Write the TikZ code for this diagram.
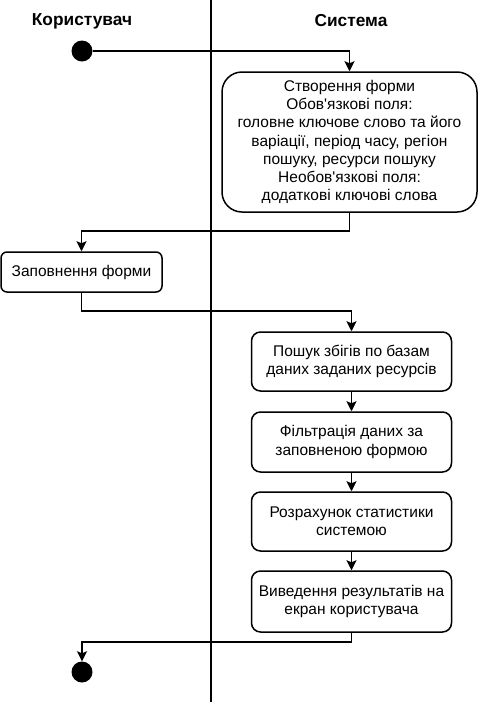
\documentclass[tikz,border=0pt]{standalone}
\usepackage{fontspec}
\setmainfont{Liberation Sans}[Ligatures=TeXOff]
\usetikzlibrary{arrows.meta}
\begin{document}
\begin{tikzpicture}[x=1pt,y=-1pt,
  every node/.style={font=\fontsize{15.5}{18.3}\selectfont, align=center, inner sep=0pt},
  act/.style={draw, line width=1.5pt, rectangle, anchor=center},
  dot/.style={circle, fill=black, minimum size=21pt, inner sep=0pt},
  lane/.style={font=\fontsize{17.3}{20}\selectfont\bfseries},
  conn/.style={line width=1.5pt, -{Stealth[length=10pt,width=10pt,inset=2pt]}}]
\useasboundingbox (0,0) rectangle (483,705);
\node[lane] (t1) at (82,21) {Користувач};
\node[lane] (t2) at (351,21) {Система};
\coordinate (lt) at (211,0);
\coordinate (lb) at (211,702);
\draw[line width=1.5pt] (lt) -- (lb);
\node[dot] (start) at (82,51) {};
\node[act, minimum width=255pt, minimum height=140pt, rounded corners=20pt] (b1) at (349.5,142)
 {Створення форми\\Обов'язкові поля:\\головне ключове слово та його\\варіації, період часу, регіон\\пошуку, ресурси пошуку\\Необов'язкові поля:\\додаткові ключові слова};
\node[act, minimum width=161pt, minimum height=40pt, rounded corners=6pt] (b2) at (81.5,272) {Заповнення форми};
\node[act, minimum width=200pt, minimum height=59pt, rounded corners=9pt] (b3) at (351.5,361.5) {Пошук збігів по базам\\даних заданих ресурсів};
\node[act, minimum width=200pt, minimum height=60pt, rounded corners=9pt] (b4) at (351.5,442) {Фільтрація даних за\\заповненою формою};
\node[act, minimum width=200pt, minimum height=59pt, rounded corners=9pt] (b5) at (351.5,521.5) {Розрахунок статистики\\системою};
\node[act, minimum width=200pt, minimum height=61pt, rounded corners=9pt] (b6) at (351.5,601.5) {Виведення результатів на\\екран користувача};
\node[dot] (end) at (82,672) {};
\draw[conn] (start.east) -| (b1.north);
\draw[conn] (b1.south) |- (216,231) -| (b2.north);
\draw[conn] (b2.south) |- (216,311) -| (b3.north);
\draw[conn] (b3) -- (b4);
\draw[conn] (b4) -- (b5);
\draw[conn] (b5) -- (b6);
\draw[conn] (b6.south) |- (216,642) -| (end.north);
\end{tikzpicture}
\end{document}
